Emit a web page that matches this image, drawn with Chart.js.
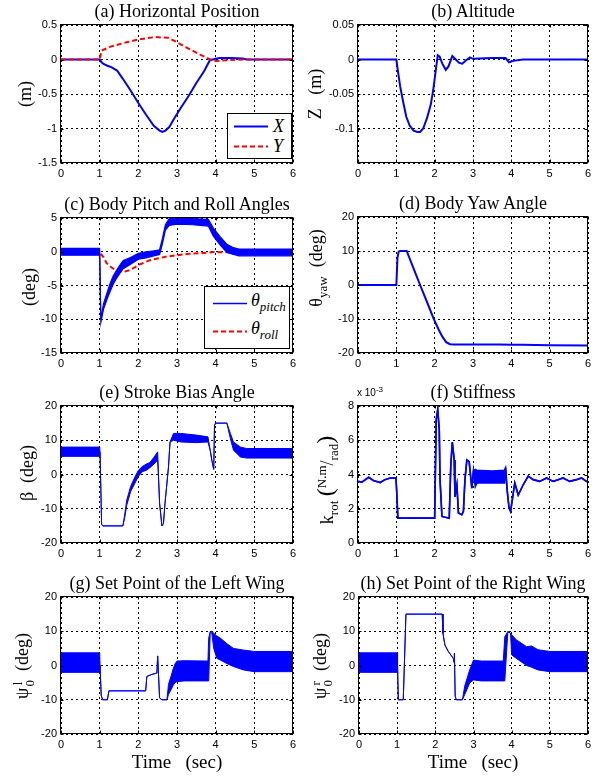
<!DOCTYPE html>
<html><head><meta charset="utf-8">
<script src="https://cdn.jsdelivr.net/npm/chart.js@4.4.0/dist/chart.umd.min.js"></script>
<style>
html,body{margin:0;padding:0;background:#fff;}
body{width:602px;height:776px;position:relative;overflow:hidden;font-family:"Liberation Serif","Times New Roman",serif;color:#000;}
canvas{position:absolute;}
.title{position:absolute;font-size:18px;line-height:18px;white-space:nowrap;transform:translateX(-50%);}
.ylab{position:absolute;font-size:18px;line-height:20px;white-space:nowrap;transform:translate(-50%,-50%) rotate(-90deg);}
.ylab sub{font-size:13px;vertical-align:-5px;line-height:0;}
.ylab sup{font-size:13px;vertical-align:7px;line-height:0;}
.xlab{position:absolute;font-size:19px;line-height:20px;white-space:pre;transform:translateX(-50%);}
.leg{position:absolute;box-sizing:border-box;border:1px solid #000;background:#fff;}
.leg svg{position:absolute;left:0;top:0;}
.leg span{position:absolute;font-style:italic;font-size:18px;line-height:18px;white-space:nowrap;}
.leg sub{font-size:13px;vertical-align:-5px;line-height:0;}
.ss{display:inline-block;vertical-align:middle;line-height:12px;font-size:13px;text-align:center;margin-left:1px;}
.ss span{display:block;}
.big{font-size:24px;}
</style>
</head><body>

<div class="title" style="left:177px;top:1.5px">(a) Horizontal Position</div>
<div class="title" style="left:473px;top:1.5px">(b) Altitude</div>
<div class="title" style="left:177px;top:194.5px">(c) Body Pitch and Roll Angles</div>
<div class="title" style="left:473px;top:193.5px">(d) Body Yaw Angle</div>
<div class="title" style="left:177px;top:382.5px">(e) Stroke Bias Angle</div>
<div class="title" style="left:473px;top:382.5px">(f) Stiffness</div>
<div class="title" style="left:177px;top:573.5px">(g) Set Point of the Left Wing</div>
<div class="title" style="left:473px;top:573.5px">(h) Set Point of the Right Wing</div>

<div class="ylab" style="left:25px;top:94px">(m)</div>
<div class="ylab" style="left:315px;top:94px">Z&nbsp;&nbsp;&nbsp;(m)</div>
<div class="ylab" style="left:29px;top:287px">(deg)</div>
<div class="ylab" style="left:316px;top:268px">θ<sub>yaw</sub>&nbsp;&nbsp;(deg)</div>
<div class="ylab" style="left:27px;top:473px">β&nbsp;&nbsp;(deg)</div>
<div class="ylab" style="left:326px;top:480px">k<sub>rot</sub>&nbsp;<span class="big">(</span><sup>N.m</sup>/<sub>rad</sub><span class="big">)</span></div>
<div class="ylab" style="left:24px;top:666px">ψ<span class="ss"><span>l</span><span>0</span></span>&nbsp;&nbsp;(deg)</div>
<div class="ylab" style="left:322px;top:666px">ψ<span class="ss"><span>r</span><span>0</span></span>&nbsp;&nbsp;(deg)</div>

<div class="xlab" style="left:177px;top:752px">Time   (sec)</div>
<div class="xlab" style="left:473px;top:752px">Time   (sec)</div>

<div style="position:absolute;left:357px;top:388px;font-family:'Liberation Sans',Arial,sans-serif;font-size:10px;line-height:10px;white-space:nowrap">x 10<sup style="font-size:8px;vertical-align:4px;line-height:0">-3</sup></div>

<script>
// ---------------- DATA ----------------
const timeTicks = [0, 1, 2, 3, 4, 5, 6];

// (a) Horizontal position (m)
const tX   = [0, 1.0, 1.05, 1.1, 1.2, 1.3, 1.45, 1.6, 1.8, 2.0, 2.2, 2.4, 2.55, 2.62, 2.7, 2.8, 2.9, 3.1, 3.3, 3.5, 3.7, 3.85, 4.0, 4.1, 4.4, 4.7, 4.8, 6.0];
const posX = [0, 0, -0.04, -0.065, -0.09, -0.11, -0.16, -0.28, -0.45, -0.63, -0.8, -0.96, -1.03, -1.05, -1.03, -0.98, -0.88, -0.7, -0.53, -0.34, -0.17, -0.01, 0.01, 0.02, 0.02, 0.015, 0, 0];
const tY   = [0, 1.0, 1.05, 1.3, 1.7, 2.0, 2.43, 2.77, 3.0, 3.26, 3.6, 3.86, 4.0, 4.3, 4.7, 5.0, 6.0];
const posY = [0, 0, 0.13, 0.19, 0.25, 0.29, 0.325, 0.315, 0.25, 0.17, 0.07, 0, -0.02, -0.01, 0, 0, 0];

// (b) Altitude Z (m)
const tZ   = [0, 1.0, 1.05, 1.1, 1.18, 1.26, 1.35, 1.45, 1.55, 1.62, 1.7, 1.8, 1.9, 1.97, 2.03, 2.08, 2.13, 2.2, 2.29, 2.36, 2.46, 2.55, 2.64, 2.72, 2.82, 2.92, 3.0, 3.5, 3.85, 3.94, 4.05, 4.3, 6.0];
const altZ = [0, 0, -0.02, -0.039, -0.062, -0.083, -0.096, -0.103, -0.105, -0.105, -0.1, -0.085, -0.065, -0.041, -0.015, 0.006, 0.004, -0.006, -0.015, -0.01, 0.005, 0, -0.005, -0.006, -0.001, 0.003, 0.001, 0.002, 0.002, -0.004, -0.002, 0, 0];

// (c) Body pitch (oscillating band: upper / lower envelope) and roll (deg)
const tPitch  = [0, 0.99, 1.0, 1.03, 1.1, 1.2, 1.27, 1.35, 1.44, 1.52, 1.61, 1.8, 2.0, 2.2, 2.4, 2.55, 2.62, 2.7, 2.8, 3.0, 3.4, 3.81, 3.94, 4.12, 4.29, 4.46, 4.6, 5.0, 6.0];
const pitchHi = [0.5, 0.5, 0.3, -10.0, -7.7, -5.9, -4.7, -3.6, -2.7, -2.0, -1.3, -0.85, -0.25, 0.0, 0.15, 0.3, 1.9, 4.0, 4.9, 5.0, 4.9, 4.8, 3.5, 2.2, 1.1, 0.6, 0.4, 0.4, 0.4];
const pitchLo = [-0.5, -0.5, -0.3, -10.5, -8.5, -6.9, -5.9, -4.8, -3.9, -3.2, -2.5, -1.85, -1.1, -0.9, -0.6, -0.4, 1.1, 3.2, 3.9, 4.1, 4.0, 3.8, 2.3, 1.0, -0.1, -0.4, -0.6, -0.6, -0.6];
const tRoll   = [0, 1.0, 1.1, 1.18, 1.3, 1.4, 1.61, 1.79, 2.05, 2.3, 2.74, 3.25, 3.95, 4.5, 5.0, 6.0];
const roll    = [-0.15, -0.15, -0.8, -1.7, -2.3, -2.7, -3.0, -2.7, -1.85, -1.25, -0.7, -0.35, -0.05, -0.1, -0.15, -0.15];

// (d) Body yaw (deg)
const tYaw = [0, 1.0, 1.03, 1.06, 1.1, 1.27, 1.5, 1.62, 1.8, 1.97, 2.1, 2.2, 2.3, 2.4, 2.5, 3.0, 3.7, 4.0, 4.3, 5.0, 6.0];
const yaw  = [0, 0, 8, 9.8, 10, 10, 3.4, 0, -5, -9.8, -13, -15.2, -16.8, -17.4, -17.5, -17.5, -17.5, -17.6, -17.6, -17.7, -17.8];

// (e) Stroke bias angle beta (deg), upper / lower envelope
const tBeta  = [0, 1.0, 1.01, 1.05, 1.08, 1.6, 1.65, 1.7, 1.8, 1.9, 2.0, 2.1, 2.2, 2.3, 2.4, 2.5, 2.55, 2.61, 2.65, 2.69, 2.78, 2.82, 2.91, 3.1, 3.5, 3.8, 3.86, 3.9, 3.95, 3.97, 4.0, 4.29, 4.38, 4.46, 4.64, 4.8, 6.0];
const betaHi = [8, 8, 6.5, -14.5, -15, -15, -11.5, -7.5, -3.5, -1, 1.2, 2.3, 3, 3.5, 5, 6.6, -8.4, -15, -14.3, -8.4, 2.2, 9.5, 12, 12, 11.5, 11, 7, 4.2, 1.5, 14.4, 15, 15, 12, 9.5, 8, 7.6, 7.6];
const betaLo = [5.3, 5.3, 6.5, -14.5, -15, -15, -12.5, -9, -5, -2.8, -0.6, 0.8, 1.2, 2, 3, 4.2, -8.4, -15, -14.3, -8.4, 2.2, 9.5, 10, 9.5, 9.3, 9.5, 7, 4.2, 1.5, 14.4, 15, 15, 10.5, 7.1, 5.1, 4.8, 4.8];

// (f) Stiffness k_rot (x 10^-3 N.m/rad), upper / lower envelope
const tK  = [0, 0.1, 0.28, 0.4, 0.58, 0.7, 0.84, 0.99, 1.01, 1.04, 2.0, 2.04, 2.08, 2.12, 2.14, 2.19, 2.38, 2.42, 2.46, 2.51, 2.53, 2.58, 2.62, 2.71, 2.75, 2.79, 2.84, 2.9, 2.97, 3.01, 3.06, 3.1, 3.5, 3.82, 3.85, 3.89, 3.94, 3.98, 4.05, 4.09, 4.18, 4.31, 4.44, 4.57, 4.74, 4.92, 5.09, 5.22, 5.35, 5.52, 5.7, 5.83, 5.96, 6.0];
const kHi = [3.6, 3.55, 3.84, 3.65, 3.53, 3.7, 3.8, 3.8, 3.0, 1.45, 1.45, 7.2, 7.8, 6.6, 3.7, 1.55, 1.45, 4.5, 5.9, 4.85, 2.7, 3.4, 1.75, 1.65, 1.85, 3.7, 4.85, 4.75, 3.2, 4.2, 4.3, 4.25, 4.2, 4.25, 4.4, 3.1, 2.05, 1.85, 2.9, 3.5, 2.8, 3.4, 3.9, 3.7, 3.6, 3.8, 3.6, 3.7, 3.8, 3.6, 3.7, 3.8, 3.6, 3.6];
const kLo = [3.6, 3.55, 3.84, 3.65, 3.53, 3.7, 3.8, 3.8, 3.0, 1.45, 1.45, 7.2, 7.8, 6.6, 3.7, 1.55, 1.45, 4.5, 5.9, 4.85, 2.7, 3.4, 1.75, 1.65, 1.85, 3.7, 4.85, 4.75, 3.2, 4.2, 3.3, 3.5, 3.5, 3.5, 4.4, 3.1, 2.05, 1.85, 2.9, 3.5, 2.8, 3.4, 3.9, 3.7, 3.6, 3.8, 3.6, 3.7, 3.8, 3.6, 3.7, 3.8, 3.6, 3.6];

// (g) Left wing set point (deg), upper / lower envelope
const tLeft  = [0, 1.0, 1.01, 1.04, 1.08, 1.2, 1.24, 2.19, 2.22, 2.35, 2.48, 2.5, 2.55, 2.61, 2.74, 2.78, 2.85, 2.9, 2.95, 3.0, 3.2, 3.8, 3.82, 3.86, 3.9, 3.95, 4.03, 4.12, 4.3, 4.46, 4.72, 5.0, 6.0];
const leftHi = [3.7, 3.7, 0, -8.8, -10, -10, -7.4, -7.4, -3.2, -2.6, -2.2, 2.8, -9.5, -10, -10, -5.5, -3, -1, 0.5, 1.3, 1.4, 1.3, 8, 9.9, 10, 9.4, 8.6, 8, 6.3, 5, 4.5, 4.1, 4.1];
const leftLo = [-2, -2, 0, -8.8, -10, -10, -7.4, -7.4, -3.2, -2.6, -2.2, 2.8, -9.5, -10, -10, -8.5, -7, -5.8, -5, -4.7, -4.5, -4.5, -4.5, 9.9, 9.5, 5, 2.1, 1.6, 0.5, -0.3, -1.3, -1.8, -1.8];

// (h) Right wing set point (deg), upper / lower envelope
const tRight  = [0, 1.0, 1.01, 1.03, 1.16, 1.23, 2.18, 2.2, 2.25, 2.34, 2.47, 2.49, 2.5, 2.52, 2.55, 2.71, 2.77, 2.9, 3.0, 3.2, 3.78, 3.82, 3.9, 3.97, 4.0, 4.12, 4.39, 4.52, 4.69, 5.0, 6.0];
const rightHi = [3.7, 3.7, 0, -10, -10, 15, 15, 9.4, 6, 4.1, 2.1, 0.9, 3.6, -9, -10, -10, -6, -1.3, 1.6, 1.3, 1.3, 8.4, 9.9, 9.4, 9, 7.5, 5.5, 5.7, 4.6, 4.1, 4.1];
const rightLo = [-2, -2, 0, -10, -10, 15, 15, 9.4, 6, 4.1, 2.1, 0.9, 3.6, -9, -10, -10, -8.5, -5.1, -4.2, -4.5, -4.5, -4.5, 9.9, 9.4, 3.1, 2.1, 0, -0.5, -1.3, -1.8, -1.8];

// ---------------- HELPERS ----------------
const BLUE = '#0000ff', RED = '#ff0000';
function pts(t, v) { return t.map((x, i) => ({x: x, y: v[i]})); }
function fmt(v) { return String(Math.round(v * 1000) / 1000); }

const framePlugin = {
  id: 'frame',
  afterDraw(chart) {
    const ctx = chart.ctx, a = chart.chartArea;
    const l = Math.round(a.left) - 0.5 + 1, t = Math.round(a.top) - 0.5 + 1;
    const r = Math.round(a.right) - 0.5, b = Math.round(a.bottom) - 0.5;
    ctx.save();
    ctx.setLineDash([]);
    ctx.strokeStyle = '#000';
    ctx.lineWidth = 1;
    ctx.strokeRect(l - 1, t - 1, r - l + 1, b - t + 1);
    // inward tick marks
    const xs = chart.scales.x, ys = chart.scales.y;
    ctx.beginPath();
    xs.ticks.forEach(tk => {
      const p = Math.round(xs.getPixelForValue(tk.value)) + 0.5;
      ctx.moveTo(p, b); ctx.lineTo(p, b - 3);
      ctx.moveTo(p, t - 1); ctx.lineTo(p, t + 2);
    });
    ys.ticks.forEach(tk => {
      const p = Math.round(ys.getPixelForValue(tk.value)) + 0.5;
      ctx.moveTo(l - 1, p); ctx.lineTo(l + 2, p);
      ctx.moveTo(r, p); ctx.lineTo(r - 3, p);
    });
    ctx.stroke();
    ctx.restore();
  }
};

const Y_W = 45, PAD_T = 10, PAD_R = 12, X_H = 22;
function makeChart(rect, yMin, yMax, yStep, datasets, hideTick) {
  const c = document.createElement('canvas');
  const w = Y_W + rect.W + PAD_R, h = PAD_T + rect.H + X_H;
  c.width = w; c.height = h;
  c.style.width = w + 'px'; c.style.height = h + 'px';
  c.style.left = (rect.L - Y_W) + 'px'; c.style.top = (rect.T - PAD_T) + 'px';
  document.body.insertBefore(c, document.body.firstChild);
  const tickFont = {family: "'Liberation Sans', Arial, sans-serif", size: 11};
  return new Chart(c, {
    type: 'line',
    data: {datasets: datasets},
    options: {
      responsive: false, animation: false, devicePixelRatio: 1,
      layout: {padding: {left: 0, top: PAD_T, right: PAD_R, bottom: 0}},
      plugins: {legend: {display: false}, tooltip: {enabled: false}, title: {display: false}},
      elements: {point: {radius: 0, hoverRadius: 0}, line: {tension: 0}},
      events: [],
      scales: {
        x: {
          type: 'linear', min: 0, max: 6,
          afterBuildTicks(s) { s.ticks = timeTicks.map(v => ({value: v})); },
          ticks: {font: tickFont, color: '#000', padding: 4, maxRotation: 0, autoSkip: false, callback: v => fmt(v)},
          grid: {color: '#000', lineWidth: 1, drawTicks: false},
          border: {display: false, dash: [2, 3]},
          afterFit(s) { s.height = X_H; s.paddingLeft = 0; s.paddingRight = 0; }
        },
        y: {
          type: 'linear', min: yMin, max: yMax,
          ticks: {stepSize: yStep, font: tickFont, color: '#000', padding: 4, autoSkip: false,
            callback: v => (hideTick !== undefined && Math.abs(v - hideTick) < 1e-9) ? '' : fmt(v)},
          grid: {color: '#000', lineWidth: 1, drawTicks: false},
          border: {display: false, dash: [2, 3]},
          afterFit(s) { s.width = Y_W; s.paddingTop = 0; s.paddingBottom = 0; }
        }
      }
    },
    plugins: [framePlugin]
  });
}
function line(t, v, color, width, dash) {
  return {data: pts(t, v), borderColor: color, borderWidth: width, borderDash: dash || [], fill: false, pointRadius: 0};
}
function band(t, hi, lo, color, width) {
  return [
    {data: pts(t, hi), borderColor: color, borderWidth: width, backgroundColor: color, fill: '+1', pointRadius: 0},
    {data: pts(t, lo), borderColor: color, borderWidth: width, fill: false, pointRadius: 0}
  ];
}

// ---------------- CHARTS ----------------
makeChart({L: 61, T: 25, W: 232, H: 138}, -1.5, 0.5, 0.5, [
  line(tY, posY, RED, 2, [5, 3]),
  line(tX, posX, BLUE, 2)
]);
makeChart({L: 358, T: 25, W: 230, H: 138}, -0.15, 0.05, 0.05, [
  line(tZ, altZ, BLUE, 2)
], -0.15);
makeChart({L: 61, T: 218, W: 232, H: 135}, -15, 5, 5, [
  ...band(tPitch, pitchHi, pitchLo, BLUE, 1.2),
  line(tRoll, roll, RED, 2, [5, 3])
]);
makeChart({L: 358, T: 217, W: 230, H: 136}, -20, 20, 10, [
  line(tYaw, yaw, BLUE, 2)
]);
makeChart({L: 61, T: 406, W: 232, H: 137}, -20, 20, 10, band(tBeta, betaHi, betaLo, BLUE, 1));
makeChart({L: 358, T: 406, W: 230, H: 137}, 0, 8, 2, band(tK, kHi, kLo, BLUE, 1.6));
makeChart({L: 61, T: 597, W: 232, H: 137}, -20, 20, 10, band(tLeft, leftHi, leftLo, BLUE, 1));
makeChart({L: 359, T: 597, W: 229, H: 137}, -20, 20, 10, band(tRight, rightHi, rightLo, BLUE, 1));
</script>

<div class="leg" style="left:227px;top:113px;width:65px;height:46px">
  <svg width="65" height="46"><line x1="6" y1="12.5" x2="40" y2="12.5" stroke="#0000ff" stroke-width="2"/><line x1="6" y1="32.5" x2="40" y2="32.5" stroke="#ff0000" stroke-width="2" stroke-dasharray="5,3"/></svg>
  <span style="left:45px;top:3px">X</span>
  <span style="left:45px;top:23px">Y</span>
</div>
<div class="leg" style="left:204px;top:286px;width:86px;height:63px">
  <svg width="86" height="63"><line x1="8" y1="16.5" x2="42" y2="16.5" stroke="#0000ff" stroke-width="1.5"/><line x1="8" y1="44.5" x2="42" y2="44.5" stroke="#ff0000" stroke-width="2" stroke-dasharray="5,3"/></svg>
  <span style="left:46px;top:4px">θ<sub>pitch</sub></span>
  <span style="left:46px;top:32px">θ<sub>roll</sub></span>
</div>
</body></html>
